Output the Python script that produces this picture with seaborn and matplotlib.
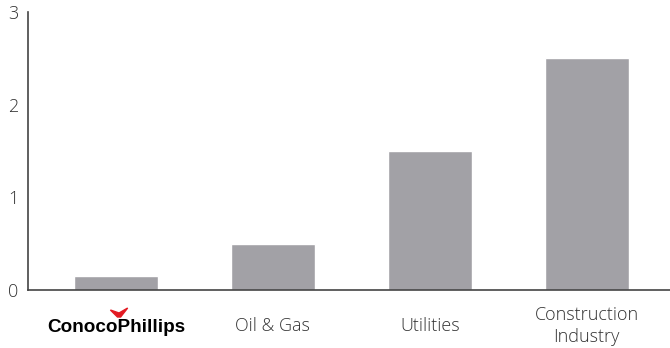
import matplotlib.pyplot as plt
import matplotlib.patches as mpatches
import matplotlib.transforms as mtransforms
import seaborn as sns
import pandas as pd

categories = ['ConocoPhillips', 'Oil & Gas', 'Utilities', 'Construction\nIndustry']
values = [0.15, 0.5, 1.5, 2.5]
y_ticks = [0, 1, 2, 3]

sns.set_style('white')
plt.rcParams['font.family'] = ['Open Sans', 'DejaVu Sans']

df = pd.DataFrame({'category': categories, 'value': values})

fig = plt.figure(figsize=(6.7, 3.48), dpi=100)
ax = fig.add_axes([28 / 670, 1 - 290 / 348, 1 - 28 / 670, (290 - 12) / 348])

sns.barplot(data=df, x='category', y='value', color='#a2a1a6', width=0.535,
            saturation=1, ax=ax)

ax.set_xlim(-0.56, 3.53)
ax.set_ylim(0, 3)
ax.set_yticks(y_ticks)
ax.set_yticklabels([str(t) for t in y_ticks], fontsize=13, color='#333333',
                   fontweight='light')
ax.tick_params(axis='y', length=0, pad=7)
for lbl in ax.get_yticklabels():
    lbl.set_va('center_baseline')
ax.set_xlabel('')
ax.set_ylabel('')
ax.set_xticks([])
sns.despine(ax=ax)
for side in ['left', 'bottom']:
    ax.spines[side].set_color('#444444')
    ax.spines[side].set_linewidth(1.2)

# category labels below the axis
trans = mtransforms.blended_transform_factory(ax.transData, ax.transAxes)
label_y = -36 / 278
for i, cat in enumerate(categories):
    if i == 0:
        ax.text(i, label_y - 1 / 278, cat, transform=trans, ha='center', va='center',
                fontsize=13.6, fontweight='bold', color='black',
                family=['Liberation Sans', 'DejaVu Sans'])
        # small red logo mark above the wordmark
        mark = mpatches.Polygon(
            [(i - 0.035, -20 / 278), (i + 0.02, -23 / 278), (i + 0.075, -18 / 278),
             (i + 0.03, -27 / 278), (i + 0.01, -27 / 278)],
            closed=True, transform=trans, color='#e31b23', clip_on=False)
        ax.add_patch(mark)
    else:
        ax.text(i, label_y, cat, transform=trans, ha='center', va='center',
                fontsize=13, color='#333333', linespacing=1.33,
                fontweight='light')

fig.savefig('out.png', dpi=100)
